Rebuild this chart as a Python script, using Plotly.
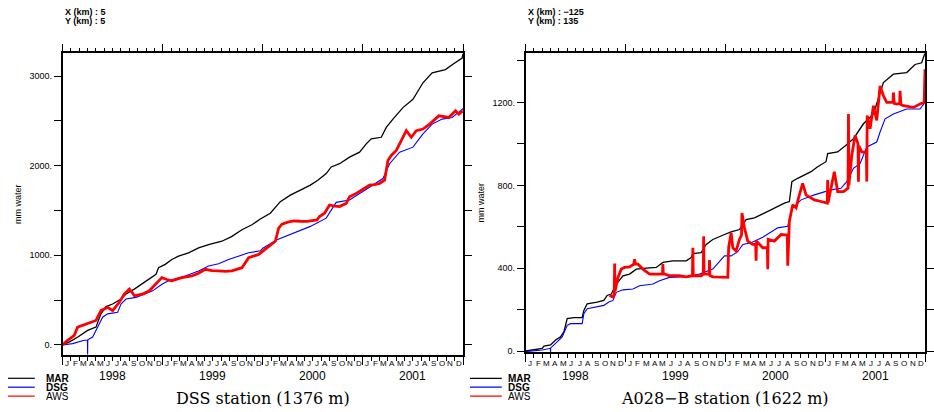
import plotly.graph_objects as go

W, H = 934, 412

# ---------------- data (months since Jan 1998, mm water) ----------------
dss_mar_t = [0, 0.83, 1.83, 3.0, 4.0, 4.6, 5.2, 6.0, 7.0, 7.6, 8.6, 9.6, 10.4, 11.2, 11.5, 12.3, 13.1, 13.9,
             15.1, 16.3, 17.5, 19.1, 20.3, 21.5, 22.7, 23.7, 24.9, 26.1, 27.3, 28.5, 29.7, 30.6, 31.6, 32.2,
             33.2, 34.4, 35.6, 36.4, 37.0, 38.2, 38.8, 39.6, 40.8, 42.0, 43.2, 44.3, 45.9, 46.7, 47.5, 47.9, 48.0]
dss_mar_v = [4, 34, 89, 162, 199, 347, 428, 457, 512, 568, 623, 685, 733, 789, 862, 899, 954, 991,
             1028, 1083, 1120, 1157, 1212, 1286, 1341, 1405, 1470, 1599, 1672, 1728, 1783, 1838, 1912, 1986,
             2022, 2096, 2151, 2243, 2299, 2317, 2428, 2520, 2648, 2741, 2925, 3035, 3072, 3127, 3183, 3201, 3250]

dss_dsg_t = [0, 1.2, 2.6, 2.98, 3.0, 3.02, 3.6, 4.2, 4.8, 5.4, 6.6, 7.0, 7.6, 8.8, 10.8, 11.9, 12.7, 14.7,
             16.3, 17.5, 18.7, 19.9, 21.1, 22.3, 23.7, 24.0, 25.7, 27.7, 29.7, 31.6, 32.8, 34.4, 35.6, 36.8,
             38.4, 39.2, 40.4, 42.0, 43.2, 44.3, 45.5, 46.7, 48.0]
dss_dsg_v = [0, 15, 52, 55, -110, 58, 89, 199, 310, 347, 365, 457, 512, 531, 604, 678, 715, 770,
             826, 881, 906, 954, 991, 1028, 1050, 1080, 1175, 1249, 1323, 1415, 1591, 1617, 1691, 1765,
             1857, 2022, 2151, 2207, 2354, 2464, 2520, 2538, 2637]

dss_aws_t = [0, 0.3, 0.6, 1.0, 1.4, 1.8, 2.3, 2.8, 3.4, 4.0, 4.6, 5.0, 5.4, 6.0, 6.4, 6.8, 7.4, 8.0, 8.3, 8.6,
             9.1, 9.6, 10.4, 11.2, 11.9, 12.5, 13.1, 13.7, 14.3, 15.5, 16.3, 17.1, 17.9, 18.7, 19.5, 20.3,
             21.5, 22.3, 23.0, 23.5, 24.5, 25.5, 25.9, 26.3, 27.0, 27.7, 28.5, 29.3, 30.5, 30.8, 31.4, 32.0,
             32.6, 33.2, 34.0, 34.4, 35.2, 36.2, 36.8, 37.4, 38.0, 38.6, 39.0, 39.4, 40.0, 40.6, 41.2, 41.8,
             42.4, 43.2, 44.0, 45.1, 45.7, 46.3, 47.1, 47.5, 48.0]
dss_aws_v = [0, 30, 52, 80, 107, 199, 215, 236, 250, 273, 383, 400, 420, 383, 430, 476, 568, 623, 590, 549,
             560, 568, 604, 678, 752, 730, 715, 735, 752, 770, 800, 844, 830, 826, 820, 826,
             862, 973, 990, 1010, 1083, 1157, 1304, 1348, 1370, 1385, 1380, 1378, 1396, 1433, 1470, 1562,
             1550, 1544, 1580, 1654, 1691, 1746, 1783, 1790, 1801, 1838, 2059, 2115, 2170, 2280, 2391, 2317,
             2391, 2409, 2464, 2556, 2545, 2538, 2612, 2575, 2612]

a028_mar_t = [0, 1.0, 2.0, 2.2, 3.0, 3.6, 4.2, 4.6, 5.0, 5.8, 6.8, 7.0, 7.4, 8.6, 9.4, 9.8, 10.3, 10.9, 11.7,
              12.5, 13.3, 14.5, 15.7, 16.5, 17.7, 19.3, 19.9, 20.1, 21.1, 21.7, 22.5, 23.9, 24.7, 25.7,
              26.5, 27.5, 28.7, 30.1, 31.1, 31.7, 32.0, 32.7, 34.3, 35.1, 36.1, 36.3, 37.5, 38.5, 39.4,
              40.6, 41.8, 43.0, 44.2, 45.8, 46.8, 47.6, 48.0]
a028_mar_v = [1, 9, 14, 25, 30, 54, 69, 93, 157, 162, 162, 197, 229, 237, 245, 269, 276, 324, 364,
              372, 396, 401, 404, 428, 436, 436, 452, 471, 476, 515, 539, 563, 576, 587,
              635, 643, 667, 691, 714, 722, 818, 834, 866, 890, 914, 953, 961, 993, 1025,
              1097, 1144, 1296, 1336, 1344, 1383, 1391, 1439]

a028_dsg_t = [0, 1.0, 2.0, 2.98, 3.0, 3.02, 3.6, 4.4, 5.0, 5.4, 6.8, 7.0, 7.4, 9.4, 10.0, 10.5, 10.9, 11.7,
              12.9, 13.7, 15.3, 16.1, 17.3, 19.3, 20.9, 22.5, 23.9, 24.7, 25.5, 26.1, 27.1, 28.5, 30.3,
              31.5, 32.1, 33.1, 34.7, 36.7, 37.9, 38.6, 39.4, 40.2, 41.0, 42.2, 42.6, 43.2, 44.2, 45.8,
              47.4, 48.0]
a028_dsg_v = [-2, 1, 6, 14, -4, 16, 38, 69, 125, 133, 133, 181, 205, 221, 237, 245, 284, 296,
              300, 316, 324, 340, 356, 359, 372, 396, 460, 460, 480, 515, 523, 550, 595,
              603, 691, 730, 754, 778, 786, 818, 882, 906, 985, 1009, 1057, 1121, 1144, 1168,
              1168, 1200]

a028_aws_t = [10.1, 10.5, 10.65, 10.7, 10.75, 11.1, 11.5, 11.9, 12.5, 13.0, 13.1, 13.2, 13.5, 14.1, 14.9,
              16.1, 16.45, 16.5, 16.55, 17.3, 18.5, 19.3, 19.9, 20.05, 20.1, 20.15, 21.1, 21.35, 21.4,
              21.45, 21.7, 22.05, 22.1, 22.15, 22.5, 23.9, 24.3, 24.4, 24.7, 24.9, 25.3, 25.7, 25.95,
              26.0, 26.3, 26.7, 27.3, 27.65, 27.7, 27.75, 28.5, 29.05, 29.1, 29.15, 29.9, 30.7, 31.1,
              31.45, 31.5, 31.7, 32.1, 32.5, 32.9, 33.3, 33.7, 34.7, 35.5, 36.1, 36.25, 36.3, 36.35,
              37.1, 37.5, 38.2, 38.75, 38.8, 38.85, 39.2, 39.6, 39.95, 40.0, 40.05, 40.4, 40.95, 41.0,
              41.05, 41.4, 41.8, 42.2, 42.6, 43.0, 43.4, 44.15, 44.2, 44.3, 44.6, 44.95, 45.0, 45.1, 45.4,
              46.6, 47.4, 47.9, 48.0]
a028_aws_v = [269, 261, 276, 423, 290, 356, 396, 404, 407, 420, 444, 420, 420, 396, 372,
              372, 372, 420, 375, 364, 364, 359, 364, 364, 499, 364, 364, 372, 555,
              372, 372, 372, 440, 365, 359, 359, 356, 499, 571, 499, 484, 539, 560,
              667, 595, 531, 515, 515, 436, 530, 499, 500, 396, 540, 531, 563, 560,
              560, 412, 627, 706, 691, 754, 810, 754, 730, 722, 714, 714, 826, 716,
              866, 770, 770, 786, 1144, 800, 945, 1041, 1000, 818, 990, 961, 960, 818,
              1137, 1073, 1184, 1113, 1280, 1232, 1200, 1200, 1248, 1195, 1192, 1195, 1256, 1190, 1184,
              1176, 1192, 1200, 1360]

month_letters = ["J", "F", "M", "A", "M", "J", "J", "A", "S", "O", "N", "D"]
years = ["1998", "1999", "2000", "2001"]
left_yticks = [0, 500, 1000, 1500, 2000, 2500, 3000]
left_ytext = ["0.", "", "1000.", "", "2000.", "", "3000."]
right_yticks = [0, 200, 400, 600, 800, 1000, 1200, 1400]
right_ytext = ["0.", "", "400.", "", "800.", "", "1200.", ""]

# ---------------- figure ----------------
fig = go.Figure()

def add_panel(fig, xa, ya, mar, dsg, aws):
    fig.add_trace(go.Scatter(x=mar[0], y=mar[1], mode="lines", line=dict(color="black", width=1.3),
                             xaxis=xa, yaxis=ya, showlegend=False, hoverinfo="skip"))
    fig.add_trace(go.Scatter(x=dsg[0], y=dsg[1], mode="lines", line=dict(color="#0000ff", width=1.1),
                             xaxis=xa, yaxis=ya, showlegend=False, hoverinfo="skip"))
    fig.add_trace(go.Scatter(x=aws[0], y=aws[1], mode="lines", line=dict(color="#ff0000", width=2.8),
                             xaxis=xa, yaxis=ya, showlegend=False, hoverinfo="skip"))

add_panel(fig, "x", "y", (dss_mar_t, dss_mar_v), (dss_dsg_t, dss_dsg_v), (dss_aws_t, dss_aws_v))
add_panel(fig, "x2", "y2", (a028_mar_t, a028_mar_v), (a028_dsg_t, a028_dsg_v), (a028_aws_t, a028_aws_v))

xdom1 = [63 / W, 466 / W]
xdom2 = [529 / W, 931 / W]
ydom1 = [1 - 358.3 / H, 1 - 54 / H]
ydom2 = [1 - 355.5 / H, 1 - 54 / H]

tickfont = dict(family="Liberation Sans, Arial, sans-serif", size=9, color="black")

def xaxis_cfg(dom, anchor, tv, tlen, overlay=None):
    d = dict(domain=dom, anchor=anchor, range=[0, 48], showgrid=False, zeroline=False,
             showline=True, linecolor="black", linewidth=1.5, mirror="ticks",
             ticks="outside", ticklen=tlen, tickwidth=1.2, tickcolor="black",
             tickvals=tv, showticklabels=False)
    if overlay:
        d["overlaying"] = overlay
    return d

def yaxis_cfg(dom, anchor, rng, tv, tt):
    return dict(domain=dom, anchor=anchor, range=rng, showgrid=False, zeroline=False,
                showline=True, linecolor="black", linewidth=1.5, mirror="ticks",
                ticks="outside", ticklen=7, tickwidth=1.3, tickcolor="black",
                tickvals=tv, ticktext=tt, tickfont=tickfont,
                title=dict(text="mm water", font=dict(family="Liberation Sans, Arial, sans-serif",
                                                     size=9, color="black"), standoff=6))

months = list(range(49))
year_ticks = [0, 12, 24, 36, 48]

fig.update_layout(
    width=W, height=H, autosize=False,
    margin=dict(l=0, r=0, t=0, b=0),
    paper_bgcolor="white", plot_bgcolor="white",
    xaxis=xaxis_cfg(xdom1, "y", months, 4),
    xaxis2=xaxis_cfg(xdom2, "y2", months, 4),
    xaxis3=xaxis_cfg(xdom1, "y", year_ticks, 8, overlay="x"),
    xaxis4=xaxis_cfg(xdom2, "y2", year_ticks, 8, overlay="x2"),
    yaxis=yaxis_cfg(ydom1, "x", [-110, 3252], left_yticks, left_ytext),
    yaxis2=yaxis_cfg(ydom2, "x2", [-4, 1436], right_yticks, right_ytext),
)
# dummy invisible traces so the overlay axes are drawn
fig.add_trace(go.Scatter(x=[None], y=[None], xaxis="x3", yaxis="y", showlegend=False, hoverinfo="skip"))
fig.add_trace(go.Scatter(x=[None], y=[None], xaxis="x4", yaxis="y2", showlegend=False, hoverinfo="skip"))

ann = []
for xr in ["x", "x2"]:
    for i in range(48):
        ann.append(dict(x=i + 0.5, xref=xr, y=1 - 367.5 / H, yref="paper", text=month_letters[i % 12],
                        showarrow=False, xanchor="center", yanchor="middle",
                        font=dict(family="Liberation Sans, Arial, sans-serif", size=8, color="black")))
    for k, yr in enumerate(years):
        ann.append(dict(x=6 + 12 * k, xref=xr, y=1 - 380 / H, yref="paper", text=yr,
                        showarrow=False, xanchor="center", yanchor="middle",
                        font=dict(family="Liberation Sans, Arial, sans-serif", size=12, color="black")))

headers = [(63, "X (km) : 5", "Y (km) : 5"), (529, "X (km) : \u2212125", "Y (km) : 135")]
for x0, t1, t2 in headers:
    ann.append(dict(x=x0 / W, xref="paper", y=1 - 12.5 / H, yref="paper", text="<b>" + t1 + "</b>",
                    showarrow=False, xanchor="left", yanchor="middle",
                    font=dict(family="Liberation Sans, Arial, sans-serif", size=9, color="black")))
    ann.append(dict(x=x0 / W, xref="paper", y=1 - 21 / H, yref="paper", text="<b>" + t2 + "</b>",
                    showarrow=False, xanchor="left", yanchor="middle",
                    font=dict(family="Liberation Sans, Arial, sans-serif", size=9, color="black")))

titles = [(265, "DSS station (1376 m)"), (730, "A028\u2212B station (1622 m)")]
for xc, t in titles:
    ann.append(dict(x=xc / W, xref="paper", y=1 - 402 / H, yref="paper", text=t, showarrow=False,
                    xanchor="center", yanchor="middle",
                    font=dict(family="DejaVu Serif, serif", size=16, color="black")))

legend_names = ["MAR", "DSG", "AWS"]
legend_colors = ["black", "#0000ff", "#ff0000"]
legend_y = [382, 391, 400]
shapes = []
for lx0, lx1, tx in [(8, 35, 45), (473, 505, 510)]:
    for name, col, ly in zip(legend_names, legend_colors, legend_y):
        shapes.append(dict(type="line", xref="paper", yref="paper", x0=lx0 / W, x1=lx1 / W,
                           y0=1 - ly / H, y1=1 - ly / H, line=dict(color=col, width=1.2)))
        txt = name if name == "AWS" else "<b>" + name + "</b>"
        ann.append(dict(x=tx / W, xref="paper", y=1 - ly / H, yref="paper", text=txt, showarrow=False,
                        xanchor="left", yanchor="middle", height=8, borderpad=0,
                        font=dict(family="Liberation Sans, Arial, sans-serif", size=10, color="black")))

fig.update_layout(annotations=ann, shapes=shapes)
fig.write_html("out.html", config={"displayModeBar": False},
               post_script="document.body.style.margin='0px';")
